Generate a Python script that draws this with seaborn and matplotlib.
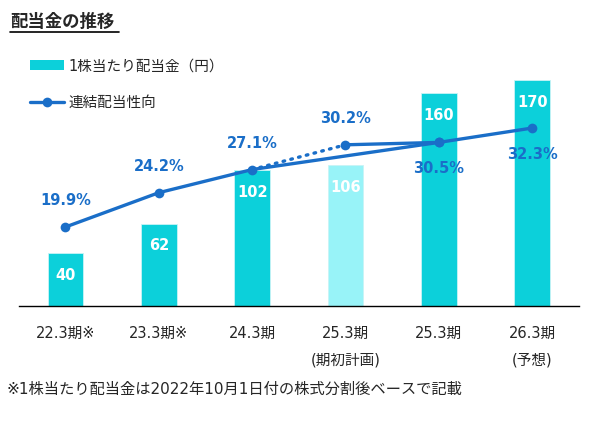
import matplotlib
matplotlib.use("Agg")
import matplotlib.pyplot as plt
from matplotlib.lines import Line2D
from matplotlib.patches import Patch
import seaborn as sns

periods = ['22.3期※', '23.3期※', '24.3期', '25.3期\n(期初計画)', '25.3期', '26.3期\n(予想)']
dividend = [40, 62, 102, 106, 160, 170]
payout = [19.9, 24.2, 27.1, 30.2, 30.5, 32.3]

bar_colors = ['#0cd0da', '#0cd0da', '#0cd0da', '#98f3f8', '#0cd0da', '#0cd0da']
line_color = '#1a6ec8'

sns.set_style('white')
plt.rcParams['font.family'] = ['DejaVu Sans', 'Noto Sans CJK JP']

W, H = 599, 423
fig = plt.figure(figsize=(W / 100, H / 100), dpi=100)
ax = fig.add_axes([18.8 / W, (H - 306) / H, 560 / W, 266 / H])

sns.barplot(x=periods, y=dividend, hue=periods, palette=bar_colors, width=0.38,
            saturation=1, legend=False, ax=ax, edgecolor='#c8f4f6', linewidth=0.6)
ax.set_xlim(-0.5, 5.5)
ax.set_ylim(0, 266 / 1.329)
ax.set_xlabel('')
ax.set_ylabel('')
ax.set_yticks([])
for s in ['top', 'right', 'left']:
    ax.spines[s].set_visible(False)
ax.spines['bottom'].set_color('black')
ax.spines['bottom'].set_linewidth(1.0)
ax.tick_params(axis='x', length=0, pad=14, labelsize=10.5)
for t in ax.get_xticklabels():
    t.set_linespacing(2.0)
    t.set_va('top')

for i, v in enumerate(dividend):
    ax.annotate(str(v), (i, v), xytext=(0, -16), textcoords='offset points',
                ha='center', va='center', color='white', fontsize=10.5, fontweight='bold')

# payout ratio on secondary axis
ax2 = ax.twinx()
ax2.set_ylim(10, 10 + 266 / 7.98)
ax2.set_yticks([])
for s in ax2.spines.values():
    s.set_visible(False)

main_x = [0, 1, 2, 4, 5]
main_y = [payout[i] for i in main_x]
sns.lineplot(x=main_x, y=main_y, ax=ax2, color=line_color, linewidth=2.4,
             marker='o', markersize=7, markeredgewidth=0, sort=False)
sns.lineplot(x=[2, 3], y=[payout[2], payout[3]], ax=ax2, color=line_color,
             linewidth=2.4, linestyle=(0, (0.5, 1.9)), dash_capstyle='round', sort=False)
sns.lineplot(x=[3, 4], y=[payout[3], payout[4]], ax=ax2, color=line_color,
             linewidth=2.4, marker='o', markersize=7, markeredgewidth=0, sort=False)
ax2.set_xlim(-0.5, 5.5)

offsets = [19, 19, 19, 19, -19, -19]
for i, (v, off) in enumerate(zip(payout, offsets)):
    ax2.annotate(f'{v}%', (i, v), xytext=(0, off), textcoords='offset points',
                 ha='center', va='center', color=line_color, fontsize=10.5, fontweight='bold')

# title with underline
fig.text(10 / W, 1 - 22 / H, '配当金の推移', fontsize=12.5, fontweight='bold',
         ha='left', va='center', family=['Noto Sans CJK JP'])
fig.add_artist(Line2D([10 / W, 119 / W], [1 - 32 / H, 1 - 32 / H], color='black', linewidth=1.2))

handles = [Patch(facecolor='#0cd0da', edgecolor='none'),
           Line2D([0], [0], color=line_color, linewidth=2.4, marker='o', markersize=7, markeredgewidth=0)]
labels = ['1株当たり配当金（円）', '連結配当性向']
fig.legend(handles, labels, loc='upper left', bbox_to_anchor=(17 / W, 1 - 45 / H),
           frameon=False, fontsize=10.5, handlelength=2.3, handleheight=0.75,
           handletextpad=0.35, labelspacing=1.5)

fig.text(7 / W, 1 - 389 / H, '※1株当たり配当金は2022年10月1日付の株式分割後ベースで記載',
         fontsize=11, ha='left', va='center')

fig.savefig('out.png', dpi=100)
